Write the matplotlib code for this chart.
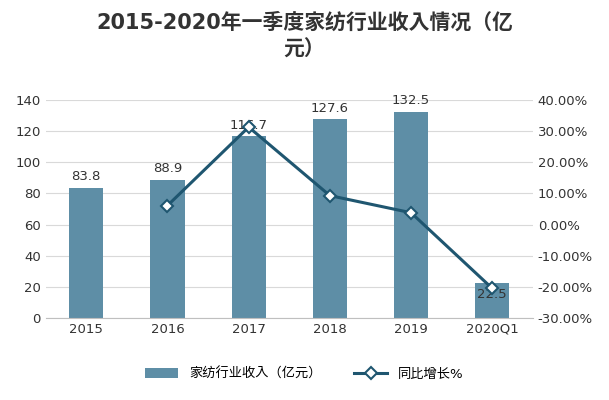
import matplotlib
matplotlib.use("Agg")
import matplotlib.pyplot as plt
from matplotlib.ticker import FuncFormatter
from matplotlib import font_manager

cands = ["Noto Sans CJK SC", "Noto Sans CJK JP", "Noto Sans CJK TC", "Noto Sans CJK KR"]
avail = {f.name for f in font_manager.fontManager.ttflist}
fams = [c for c in cands if c in avail]
if not fams:
    for p in font_manager.findSystemFonts():
        if "CJK" in p:
            font_manager.fontManager.addfont(p)
    avail = {f.name for f in font_manager.fontManager.ttflist}
    fams = [n for n in avail if "CJK" in n]
plt.rcParams['font.family'] = ["DejaVu Sans"] + fams

categories = ["2015", "2016", "2017", "2018", "2019", "2020Q1"]
revenue = [83.8, 88.9, 116.7, 127.6, 132.5, 22.5]
growth_cats = ["2016", "2017", "2018", "2019", "2020Q1"]
growth = [6.1, 31.3, 9.3, 3.8, -20.5]

fig = plt.figure(figsize=(6.09, 4.0), dpi=100)
ax = fig.add_axes([0.075, 0.205, 0.80, 0.545])
x = list(range(len(categories)))
bar_color = "#5e8ea6"
line_color = "#1f5670"
ax.bar(x, revenue, width=0.42, color=bar_color, label="家纺行业收入（亿元）", zorder=2)
for xi, v in zip(x, revenue):
    if v < 40:
        ax.text(xi, v - 3, f"{v}", ha="center", va="top", fontsize=9.5, color="#333333", zorder=5)
    else:
        ax.text(xi, v + 3, f"{v}", ha="center", va="bottom", fontsize=9.5, color="#333333", zorder=5)
ax.set_ylim(0, 140)
ax.set_yticks(range(0, 141, 20))
ax.set_xlim(-0.5, len(categories) - 0.5)
ax.set_xticks(x)
ax.set_xticklabels(categories)
ax.grid(axis="y", color="#d9d9d9", linewidth=0.8, zorder=0)
ax.tick_params(length=0, labelsize=9.5, colors="#333333")
for s in ["top", "right", "left"]:
    ax.spines[s].set_visible(False)
ax.spines["bottom"].set_color("#bfbfbf")

ax2 = ax.twinx()
gx = [categories.index(c) for c in growth_cats]
ax2.plot(gx, growth, color=line_color, linewidth=2.2, marker="D", markersize=6,
         markerfacecolor="white", markeredgecolor=line_color, markeredgewidth=1.5,
         label="同比增长%", zorder=4)
ax2.set_ylim(-30, 40)
ax2.set_yticks(range(-30, 41, 10))
ax2.yaxis.set_major_formatter(FuncFormatter(lambda v, p: f"{v:.2f}%"))
ax2.tick_params(length=0, labelsize=9.5, colors="#333333")
for s in ["top", "right", "left", "bottom"]:
    ax2.spines[s].set_visible(False)

fig.text(0.5, 0.91, "2015-2020年一季度家纺行业收入情况（亿\n元）", ha="center", va="center",
         fontsize=15, fontweight="bold", color="#333333", linespacing=1.4)

h1, l1 = ax.get_legend_handles_labels()
h2, l2 = ax2.get_legend_handles_labels()
fig.legend(h1 + h2, l1 + l2, loc="center", bbox_to_anchor=(0.5, 0.065), ncol=2,
           frameon=False, fontsize=9.5, handlelength=2.5, columnspacing=2.5)

fig.savefig("out.png", dpi=100, facecolor="white")
